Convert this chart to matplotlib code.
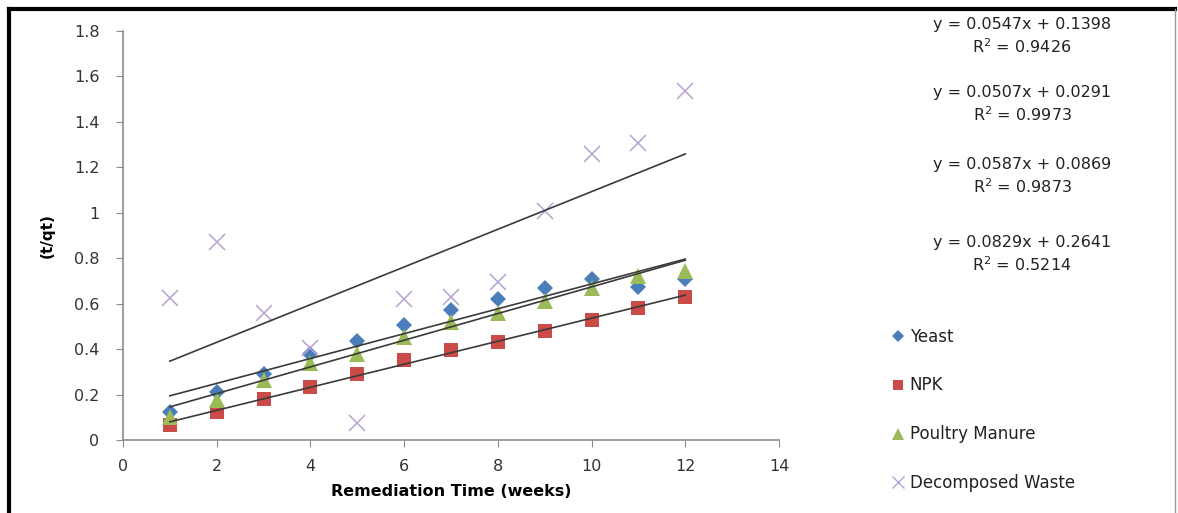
import numpy as np
import matplotlib
matplotlib.use("Agg")
import matplotlib.pyplot as plt
from matplotlib.lines import Line2D

plt.rcParams['font.family'] = ['DejaVu Sans']

weeks = [1, 2, 3, 4, 5, 6, 7, 8, 9, 10, 11, 12]
yeast = [0.123, 0.21, 0.29, 0.38, 0.435, 0.505, 0.57, 0.62, 0.67, 0.71, 0.675, 0.71]
npk = [0.065, 0.123, 0.18, 0.235, 0.29, 0.35, 0.395, 0.43, 0.48, 0.53, 0.58, 0.63]
poultry = [0.10, 0.175, 0.265, 0.34, 0.38, 0.455, 0.52, 0.56, 0.61, 0.67, 0.72, 0.745]
decomposed = [0.625, 0.87, 0.56, 0.405, 0.075, 0.62, 0.63, 0.695, 1.01, 1.26, 1.307, 1.536]

series_names = ["Yeast", "NPK", "Poultry Manure", "Decomposed Waste"]
slopes = [0.0547, 0.0507, 0.0587, 0.0829]
intercepts = [0.1398, 0.0291, 0.0869, 0.2641]
r_squared = [0.9426, 0.9973, 0.9873, 0.5214]

x_ticks = [0, 2, 4, 6, 8, 10, 12, 14]
y_ticks = [0, 0.2, 0.4, 0.6, 0.8, 1.0, 1.2, 1.4, 1.6, 1.8]
y_tick_labels = ["0", "0.2", "0.4", "0.6", "0.8", "1", "1.2", "1.4", "1.6", "1.8"]

colors = ["#4A7EBB", "#CB4B48", "#9BBB59", "#B6A2D3"]
markers = ["D", "s", "^", "x"]
msizes = [8, 10.5, 11, 12]

fig = plt.figure(figsize=(11.78, 5.13), dpi=100)
ax = fig.add_axes([123/1178, 1-440/513, (779-123)/1178, (440-31)/513])

data = [yeast, npk, poultry, decomposed]
for vals, c, m, ms, name in zip(data, colors, markers, msizes, series_names):
    ax.plot(weeks, vals, linestyle="none", marker=m, color=c, markersize=ms,
            markeredgewidth=(1.1 if m == "x" else 0), label=name, zorder=3)

xs = np.array([weeks[0], weeks[-1]], dtype=float)
for s, b in zip(slopes, intercepts):
    ax.plot(xs, s * xs + b, color="#3a3a3a", linewidth=1.2, zorder=4)

ax.set_xlim(0, 14)
ax.set_ylim(0, 1.8)
ax.set_xticks(x_ticks)
ax.set_yticks(y_ticks)
ax.set_yticklabels(y_tick_labels)
for sp in ["top", "right"]:
    ax.spines[sp].set_visible(False)
for sp in ["left", "bottom"]:
    ax.spines[sp].set_color("#8c8c8c")
    ax.spines[sp].set_linewidth(1.2)
ax.tick_params(axis="both", direction="out", length=5, color="#8c8c8c",
               labelsize=11.5, labelcolor="#333333")
ax.tick_params(axis="y", pad=12)
ax.tick_params(axis="x", pad=9)
ax.set_xlabel("Remediation Time (weeks)", fontsize=11.5, fontweight="bold", labelpad=7)
ax.set_ylabel("(t/qt)", fontsize=11, fontweight="bold", labelpad=14)

# trendline equations
eq_y = [25, 93, 165, 243]
for s, b, r2, yp in zip(slopes, intercepts, r_squared, eq_y):
    fig.text(1022/1178, 1 - yp/513, f"y = {s:.4f}x + {b:.4f}", ha="center", va="center",
             fontsize=11.5, color="#222222")
    fig.text(1022/1178, 1 - (yp + 22)/513, f"R$^2$ = {r2:.4f}", ha="center", va="center",
             fontsize=11.5, color="#222222")

# legend
handles = [Line2D([], [], linestyle="none", marker=m, color=c,
                  markersize=ms * 0.75, markeredgewidth=(1.0 if m == "x" else 0))
           for c, m, ms in zip(colors, markers, msizes)]
leg = fig.legend(handles, series_names, loc="upper left",
                 bbox_to_anchor=(884/1178, 1 - 321/513), frameon=False,
                 fontsize=12, labelspacing=1.85, handlelength=0.9, handletextpad=0.25,
                 borderaxespad=0)
for t in leg.get_texts():
    t.set_color("#222222")

# outer border: thick black left & top, thin grey right
fig.add_artist(Line2D([9/1178, 9/1178], [0, 1 - 9/513], transform=fig.transFigure,
                      color="black", linewidth=3, solid_capstyle="projecting"))
fig.add_artist(Line2D([9/1178, 1175/1178], [1 - 9/513, 1 - 9/513], transform=fig.transFigure,
                      color="black", linewidth=3, solid_capstyle="projecting"))
fig.add_artist(Line2D([1175/1178, 1175/1178], [0, 1 - 9/513], transform=fig.transFigure,
                      color="#9a9a9a", linewidth=1))

fig.savefig("out.png", dpi=100)
